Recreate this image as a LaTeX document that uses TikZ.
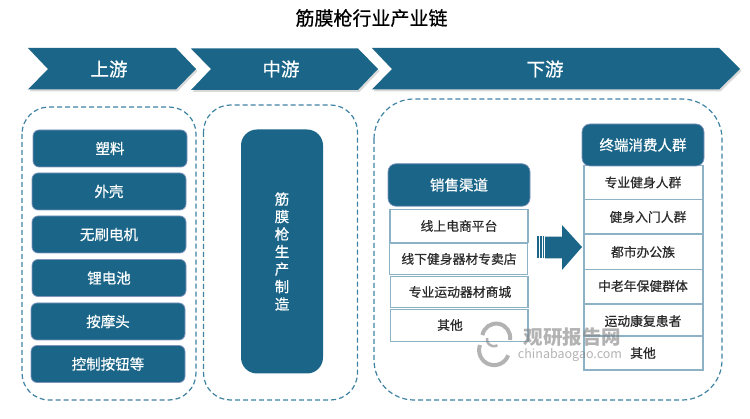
\documentclass[tikz,border=0pt]{standalone}
\usepackage{fontspec}
\setmainfont{Noto Sans CJK SC}
\newfontfamily\midfont[FakeBold=0.6]{Noto Sans CJK SC}
\usepackage{tikz,xcolor}
\usetikzlibrary{shadows}

\definecolor{tealfill}{HTML}{1B6688}
\definecolor{tealline}{HTML}{3F83A3}
\definecolor{paleline}{HTML}{8DB2C6}
\definecolor{lavline}{HTML}{7F93BC}
\definecolor{darktext}{HTML}{2B2B2B}

\tikzstyle{chevronbox}=[fill=tealfill, drop shadow={shadow xshift=1.5pt, shadow yshift=-2pt, opacity=.3}]
\tikzstyle{headtext}=[text=white, font=\fontsize{18.5}{18.5}\selectfont\midfont]
\tikzstyle{dashbox}=[draw=tealline, line width=1.2pt, dash pattern=on 5pt off 3pt]
\tikzstyle{tealbox}=[draw=lavline, line width=.7pt, fill=tealfill, rounded corners=6pt, text=white, inner sep=0pt, minimum width=154pt, minimum height=37pt, font=\fontsize{14.5}{14.5}\selectfont\midfont]
\tikzstyle{titlebox}=[tealbox, rounded corners=8pt]
\tikzstyle{whitebox}=[draw=paleline, line width=1.1pt, fill=white, inner sep=0pt]
\tikzstyle{itemtext}=[text=darktext, font=\fontsize{12.8}{12.8}\selectfont\midfont]

\begin{document}
\begin{tikzpicture}[x=1pt, y=-1pt]
\useasboundingbox (0,0) rectangle (750,419);

\node[text=black, font=\fontsize{19}{19}\selectfont\midfont] (title) at (371.5,18) {筋膜枪行业产业链};

\fill[chevronbox] (28,48) -- (176,48) -- (196,69) -- (176,89.5) -- (28,89.5) -- (48,69) -- cycle;
\fill[chevronbox] (191,48.5) -- (358,48.5) -- (378,69) -- (358,90) -- (191,90) -- (211,69) -- cycle;
\fill[chevronbox] (372,48) -- (719,48) -- (740,69) -- (719,89.5) -- (372,89.5) -- (392,69) -- cycle;

\node[headtext] (up) at (109,69) {上游};
\node[headtext] (mid) at (281,69) {中游};
\node[headtext] (down) at (545,69) {下游};

\draw[dashbox, rounded corners=27pt] (22,107) rectangle (196,400);
\draw[dashbox, rounded corners=27pt] (203.5,105) rectangle (357.5,400);
\draw[dashbox, rounded corners=40pt] (374,99) rectangle (722,400);

\node[tealbox] (plastic) at (110,148.5) {塑料};
\node[tealbox] (shell) at (109,191.5) {外壳};
\node[tealbox] (motor) at (109,234.5) {无刷电机};
\node[tealbox] (battery) at (109,278) {锂电池};
\node[tealbox] (head) at (108,321.5) {按摩头};
\node[tealbox] (button) at (108,364) {控制按钮等};

\node[tealbox, draw=none, rounded corners=16pt, minimum width=82pt, minimum height=244pt, align=center, font=\fontsize{14.5}{17.5}\selectfont\midfont] (make) at (282,251.5) {筋\\膜\\枪\\生\\产\\制\\造};

\node[titlebox, minimum width=142pt, minimum height=42.5pt] (sales) at (459,185) {销售渠道};

\node[whitebox, minimum width=138pt, minimum height=32.5pt] (s1) at (459,226) {};
\node[whitebox, minimum width=138pt, minimum height=31.5pt] (s2) at (458.5,258.8) {};
\node[whitebox, minimum width=137.5pt, minimum height=31pt] (s3) at (459.2,292) {};
\node[whitebox, minimum width=137.5pt, minimum height=32pt] (s4) at (459.2,325.5) {};

\node[itemtext] (s1t) at (459,226) {线上电商平台};
\node[itemtext] (s2t) at (459,259) {线下健身器材专卖店};
\node[itemtext] (s3t) at (460,292) {专业运动器材商城};
\node[itemtext] (s4t) at (450,325) {其他};

\fill[tealfill] (537,236.5) rectangle (538.5,258.5);
\fill[tealfill] (540,236.5) rectangle (541.5,258.5);
\fill[tealfill] (543,236.5) rectangle (544,258.5);
\fill[tealfill] (545,236.7) -- (562,236.7) -- (562,225) -- (582,247) -- (562,270) -- (562,258.3) -- (545,258.3) -- cycle;

\node[whitebox, minimum width=119pt, minimum height=33.5pt] (u1) at (643.5,182.7) {};
\node[whitebox, minimum width=119pt, minimum height=34.5pt] (u2) at (643.5,216.8) {};
\node[whitebox, minimum width=119pt, minimum height=34.5pt] (u3) at (643.5,252.2) {};
\node[whitebox, minimum width=119pt, minimum height=34pt] (u4) at (643.5,286.5) {};
\node[whitebox, minimum width=119pt, minimum height=32pt] (u5) at (643.5,320) {};
\node[whitebox, minimum width=119pt, minimum height=34pt] (u6) at (643.5,353) {};

\node[titlebox, minimum width=122pt, minimum height=42pt] (users) at (643,145) {终端消费人群};

\node[itemtext] (u1t) at (643,182.5) {专业健身人群};
\node[itemtext] (u2t) at (648,217) {健身入门人群};
\node[itemtext] (u3t) at (643,252) {都市办公族};
\node[itemtext] (u4t) at (643,286) {中老年保健群体};
\node[itemtext] (u5t) at (643,321) {运动康复患者};
\node[itemtext] (u6t) at (643,353) {其他};

\begin{scope}[opacity=.6]
\draw[gray, line width=4pt] (480,345) arc (200:20:15);
\draw[gray, line width=4pt] (510,340) arc (10:-170:14);
\draw[gray, line width=2.5pt] (487,338) arc (190:60:7);
\node[text=gray, font=\fontsize{19.5}{19.5}\selectfont\bfseries] (mark) at (572.5,337) {观研报告网};
\node[text=gray, font=\fontsize{12.5}{12.5}\selectfont] (site) at (570,355) {chinabaogao.com};
\end{scope}

\end{tikzpicture}
\end{document}
